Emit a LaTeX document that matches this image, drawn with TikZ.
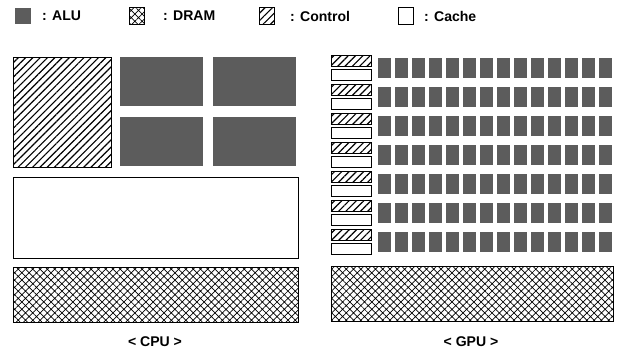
\documentclass[tikz,border=0pt]{standalone}
\usepackage{fontspec}
\setmainfont{Liberation Sans}
\usepackage{tikz}
\usetikzlibrary{patterns.meta,positioning}

\begin{document}
\begin{tikzpicture}[x=0.03cm, y=-0.03cm,
    alu/.style={draw=none, fill=black!64},
    dram/.style={draw, thick, pattern={Hatch[angle=45, distance=4.4pt, line width=0.6pt]}},
    ctrl/.style={draw, thick, pattern={Lines[angle=45, distance=4.4pt, line width=1pt]}},
    cache/.style={draw, thick, fill=white},
    swatch/.style={minimum width=13pt, minimum height=14.5pt, inner sep=0pt},
    keytext/.style={anchor=west, inner sep=0pt, font=\fontsize{12}{14}\selectfont\bfseries},
    caption/.style={font=\fontsize{12}{14}\selectfont\bfseries}]
        \useasboundingbox (0,0) rectangle (619,353);
        % Legend
        \node[swatch, alu] (aluKey) at (23,16) {};
        \node[keytext] (aluTxt) at (42,16) {: ALU};
        \node[swatch, dram] (dramKey) at (137,16) {};
        \node[keytext] (dramTxt) at (163,16) {: DRAM};
        \node[swatch, ctrl] (ctrlKey) at (267,16) {};
        \node[keytext] (ctrlTxt) at (290,16) {: Control};
        \node[swatch, cache] (cacheKey) at (406,16) {};
        \node[keytext] (cacheTxt) at (424,16) {: Cache};
        % CPU: one big control block, four ALUs, cache and DRAM
        \draw[ctrl] (13,57) rectangle (111,167);
        \fill[alu] (120,57) rectangle (203,106);
        \fill[alu] (213,57) rectangle (296,106);
        \fill[alu] (120,117) rectangle (203,166);
        \fill[alu] (213,117) rectangle (296,166);
        \draw[cache] (13,177) rectangle (298,258);
        \draw[dram] (13,267) rectangle (298,322);
        % GPU: rows of control + cache strips, each with fourteen ALUs
        \foreach \r in {0,...,6} {
          \draw[ctrl] (331,{55+29*\r}) rectangle +(40,11);
          \draw[cache] (331,{69+29*\r}) rectangle +(40,11);
          \foreach \c in {0,...,13}
            \fill[alu] ({378+17*\c},{58+29*\r}) rectangle +(13,20);
        }
        \draw[dram] (331,266) rectangle (613,321);
        % Captions
        \node[caption] (cpuLbl) at (155,342) {< CPU >};
        \node[caption] (gpuLbl) at (471,342) {< GPU >};
      \end{tikzpicture}
\end{document}
